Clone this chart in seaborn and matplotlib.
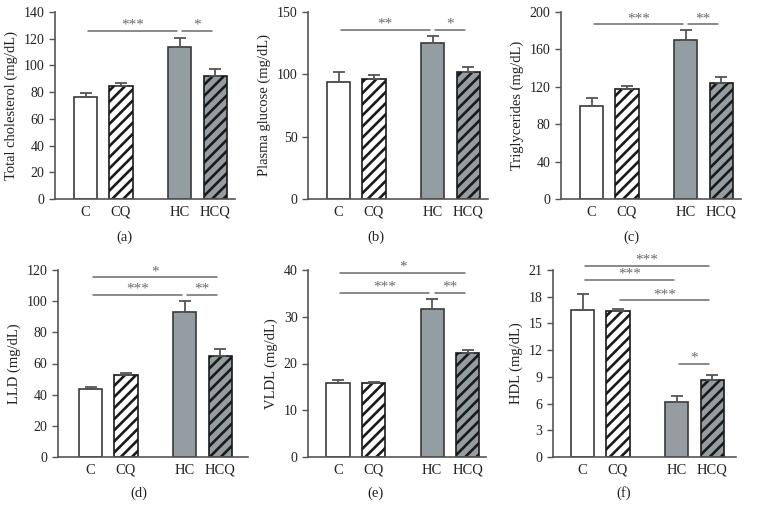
import matplotlib
matplotlib.use('Agg')
import matplotlib.pyplot as plt
import seaborn as sns
import pandas as pd
import numpy as np

sns.set_style('ticks')
plt.rcParams['font.family'] = ['Liberation Serif', 'DejaVu Serif']
plt.rcParams['hatch.linewidth'] = 1.9

# groups and bar positions (gap between CQ and HC)
groups = ['C', 'CQ', 'HC', 'HCQ']
positions = [0, 1, 2.65, 3.65]
fills = ['white', 'white', '#929ea4', '#929ea4']
hatches = ['', '///', '', '///']

# values (mean, upper error)
chol_mean = [76, 84.5, 113.5, 92]
chol_err = [3, 2, 7, 5]
gluc_mean = [94, 96, 125.5, 102]
gluc_err = [7.5, 3.5, 5, 4]
tg_mean = [99, 117.5, 170, 124]
tg_err = [9, 3, 11, 7]
ldl_mean = [43.5, 52.5, 93, 64.5]
ldl_err = [1.5, 1.5, 7, 5]
vldl_mean = [15.8, 15.8, 31.6, 22.2]
vldl_err = [0.6, 0.15, 2.2, 0.7]
hdl_mean = [16.5, 16.4, 6.2, 8.7]
hdl_err = [1.8, 0.2, 0.6, 0.5]

# significance brackets: (from group, to group, y, label)
chol_sig = [(0, 2, 126, '***'), (2, 3, 126, '*')]
gluc_sig = [(0, 2, 135.5, '**'), (2, 3, 135.5, '*')]
tg_sig = [(0, 2, 187, '***'), (2, 3, 187, '**')]
ldl_sig = [(0, 3, 115.3, '*'), (0, 2, 104, '***'), (2, 3, 104, '**')]
vldl_sig = [(0, 3, 39.4, '*'), (0, 2, 35.1, '***'), (2, 3, 35.1, '**')]
hdl_sig = [(0, 3, 21.45, '***'), (0, 2, 19.9, '***'), (1, 3, 17.6, '***'), (2, 3, 10.5, '*')]

panels = [
    # label, ylabel, mean, err, sig, yticks, (left, right, top, bottom, C centre) in px, panel-label x
    ('(a)', 'Total cholesterol (mg/dL)', chol_mean, chol_err, chol_sig, np.arange(0, 141, 20), (55, 235, 12, 199, 85.5), 124),
    ('(b)', 'Plasma glucose (mg/dL)', gluc_mean, gluc_err, gluc_sig, np.arange(0, 151, 50), (308, 488, 12, 199, 338.5), 376),
    ('(c)', 'Triglycerides (mg/dL)', tg_mean, tg_err, tg_sig, np.arange(0, 201, 40), (561, 741, 12, 199, 591.5), 631),
    ('(d)', 'LLD (mg/dL)', ldl_mean, ldl_err, ldl_sig, np.arange(0, 121, 20), (58, 248, 270, 457, 90.5), 139),
    ('(e)', 'VLDL (mg/dL)', vldl_mean, vldl_err, vldl_sig, np.arange(0, 41, 10), (308, 486, 270, 457, 338), 375),
    ('(f)', 'HDL (mg/dL)', hdl_mean, hdl_err, hdl_sig, np.arange(0, 22, 3), (553, 736, 270, 457, 582.5), 624),
]

W, H = 759, 520
unit = 35.5  # px per x data unit
axis_col = '#555555'
sig_col = '#6a6a6a'

fig = plt.figure(figsize=(W / 100, H / 100), dpi=100)

for label, ylab, mean, err, sig, yticks, (l, r, t, b, cc), lx in panels:
    ax = fig.add_axes([l / W, 1 - b / H, (r - l) / W, (b - t) / H])
    df = pd.DataFrame({'pos': positions, 'val': mean, 'group': groups})
    sns.barplot(data=df, x='pos', y='val', hue='group', palette=dict(zip(groups, fills)),
                native_scale=True, dodge=False, legend=False, width=0.65,
                errorbar=None, edgecolor='#3a3a3a', linewidth=1.2, ax=ax)
    for p in ax.patches:
        cx = p.get_x() + p.get_width() / 2
        i = int(np.argmin([abs(cx - x) for x in positions]))
        if hatches[i]:
            p.set_hatch(hatches[i])
            p.set_edgecolor('#1a1a1a')
    ax.errorbar(positions, mean, yerr=[np.zeros(4), err], fmt='none',
                ecolor=axis_col, elinewidth=1.3, capsize=4.5, capthick=1.3, zorder=1)

    ax.set_xlim((l - cc) / unit, (r - cc) / unit)
    ax.set_ylim(yticks[0], yticks[-1])
    ax.set_yticks(yticks)
    ax.set_xticks(positions)
    ax.set_xticklabels(groups)
    ax.tick_params(axis='x', length=0, labelsize=10.5, pad=5, colors='#222222')
    ax.tick_params(axis='y', length=4, width=1, labelsize=10, colors=axis_col, labelcolor='#222222')
    ax.set_xlabel('')
    ax.set_ylabel(ylab, fontsize=10.5, color='#222222')
    sns.despine(ax=ax)
    for s in ['left', 'bottom']:
        ax.spines[s].set_color(axis_col)
        ax.spines[s].set_linewidth(1.2)

    for i, j, y, txt in sig:
        x0 = positions[i] + 0.07
        x1 = positions[j] - 0.08
        ax.plot([x0, x1], [y, y], color=sig_col, lw=1.1, clip_on=False)
        ax.annotate(txt, ((x0 + x1) / 2, y), xytext=(0, 1.5), textcoords='offset points',
                    ha='center', va='baseline', fontsize=11, color=sig_col,
                    annotation_clip=False)

    fig.text(lx / W, 1 - (237 if t < 100 else 493) / H, label, ha='center', va='center',
             fontsize=10.5, color='#222222')

plt.savefig('out.png', dpi=100)
